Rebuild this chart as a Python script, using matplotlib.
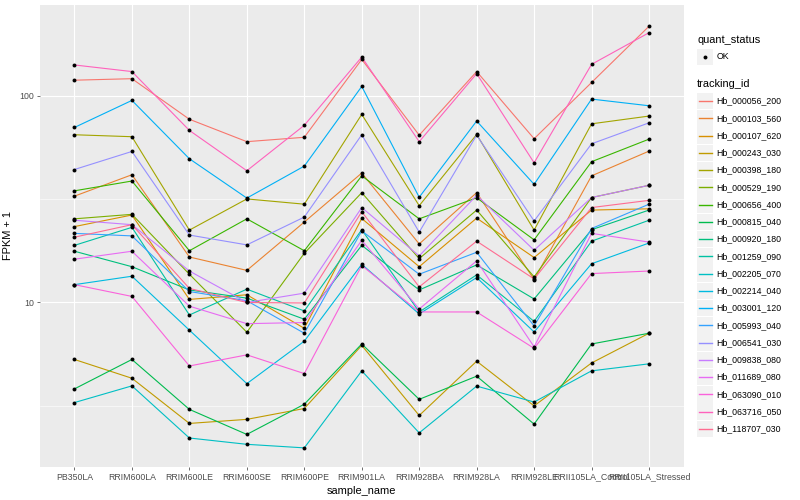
import numpy as np
import matplotlib
matplotlib.use('Agg')
import matplotlib.pyplot as plt
from matplotlib.patches import Rectangle
from matplotlib.ticker import FixedLocator, NullFormatter

plt.rcParams['font.family'] = ['Liberation Sans', 'DejaVu Sans']

#### dados

samples = ['PB350LA', 'RRIM600LA', 'RRIM600LE', 'RRIM600SE', 'RRIM600PE', 'RRIM901LA',
           'RRIM928BA', 'RRIM928LA', 'RRIM928LE', 'RRII105LA_Control', 'RRII105LA_Stressed']

tracking_ids = ['Hb_000056_200', 'Hb_000103_560', 'Hb_000107_620', 'Hb_000243_030',
                'Hb_000398_180', 'Hb_000529_190', 'Hb_000656_400', 'Hb_000815_040',
                'Hb_000920_180', 'Hb_001259_090', 'Hb_002205_070', 'Hb_002214_040',
                'Hb_003001_120', 'Hb_005993_040', 'Hb_006541_030', 'Hb_009838_080',
                'Hb_011689_080', 'Hb_063090_010', 'Hb_063716_050', 'Hb_118707_030']

# paleta hue do ggplot (20 cores)
cores = ['#F8766D', '#EA8331', '#D89000', '#C09B00', '#A3A500', '#7CAE00', '#39B600',
         '#00BB4E', '#00BF7D', '#00C1A3', '#00BFC4', '#00BAE0', '#00B0F6', '#35A2FF',
         '#9590FF', '#C77CFF', '#E76BF3', '#FA62DB', '#FF62BC', '#FF6C91']

# FPKM + 1 por amostra
hb_000056_200 = [119, 121, 77, 60, 63, 150, 64.5, 131, 62, 116, 217]
hb_000103_560 = [32.7, 41.5, 16.6, 14.3, 24.5, 42.3, 19.2, 34, 12.9, 41, 54]
hb_000107_620 = [23.3, 26.5, 10.35, 10.9, 7.5, 25.5, 14.9, 25.6, 16.5, 28, 28.4]
hb_000243_030 = [5.3, 4.3, 2.6, 2.72, 3.07, 6.2, 2.84, 5.2, 3.16, 5.1, 7.1]
hb_000398_180 = [64.8, 63.4, 22.4, 31.7, 29.9, 81.3, 29.4, 65, 22.4, 73.2, 79.8]
hb_000529_190 = [25.4, 26.7, 13.7, 7.18, 17.3, 34, 16.3, 28, 13.3, 32.2, 36.9]
hb_000656_400 = [34.7, 38.7, 17.8, 25.4, 17.8, 41, 25.4, 32.1, 20.1, 48, 61.7]
hb_000815_040 = [3.82, 5.3, 3.04, 2.3, 3.22, 6.3, 3.4, 4.4, 2.58, 6.3, 7.1]
hb_000920_180 = [17.7, 14.9, 11.5, 10.5, 8.3, 18.9, 11.5, 15.2, 10.4, 22.5, 28]
hb_001259_090 = [18.9, 23.1, 8.7, 11.6, 9.1, 22.5, 9.0, 13.6, 8.1, 19.8, 25]
hb_002205_070 = [3.28, 3.95, 2.21, 2.06, 1.98, 4.67, 2.34, 3.94, 3.3, 4.67, 5.05]
hb_002214_040 = [12.2, 13.4, 7.35, 4.05, 6.5, 15.3, 8.8, 13.2, 7.2, 15.4, 19.4]
hb_003001_120 = [70.3, 95, 49.6, 32, 45.7, 111, 32.3, 75.5, 37.3, 96.4, 89.5]
hb_005993_040 = [21.6, 21, 11.3, 10.2, 7.1, 22.2, 13.7, 17.5, 7.7, 22.8, 29.9]
hb_006541_030 = [44, 53.8, 21.2, 19, 25.9, 64.8, 21.9, 64.5, 24.8, 58.6, 74]
hb_009838_080 = [25.0, 23.8, 14.2, 10.0, 11.1, 28.8, 16.8, 33.0, 17.9, 32.2, 36.9]
hb_011689_080 = [16.2, 17.7, 9.6, 7.9, 8.0, 20, 9.3, 15.9, 6.1, 21.6, 19.6]
hb_063090_010 = [12.2, 10.7, 4.93, 5.58, 4.53, 15.1, 9.0, 9.0, 6.0, 13.8, 14.2]
hb_063716_050 = [141, 131, 68, 43.4, 72, 154, 60, 128, 47.4, 142, 202]
hb_118707_030 = [20.7, 23.8, 11.7, 10.0, 9.95, 27.5, 11.9, 19.8, 13.0, 28.8, 31.2]

series = [hb_000056_200, hb_000103_560, hb_000107_620, hb_000243_030, hb_000398_180,
          hb_000529_190, hb_000656_400, hb_000815_040, hb_000920_180, hb_001259_090,
          hb_002205_070, hb_002214_040, hb_003001_120, hb_005993_040, hb_006541_030,
          hb_009838_080, hb_011689_080, hb_063090_010, hb_063716_050, hb_118707_030]

#### grafico

W, H = 800, 500
fig = plt.figure(figsize=(8, 5), dpi=100)
ax = fig.add_axes([40 / W, 1 - 467 / H, (683.5 - 40) / W, (467 - 5) / H])
ax.set_facecolor('#EBEBEB')

x = np.arange(len(samples))
for vals, cor in zip(series, cores):
    ax.plot(x, vals, color=cor, lw=0.8, zorder=2)
for vals in series:
    ax.scatter(x, vals, s=8, color='black', zorder=3, linewidths=0)

ax.set_yscale('log')
ax.set_ylim(1.6, 275)
ax.set_xlim(-0.6, len(samples) - 0.4)
ax.yaxis.set_major_locator(FixedLocator([10, 100]))
ax.yaxis.set_minor_locator(FixedLocator([10 ** 0.5, 10 ** 1.5]))
ax.yaxis.set_minor_formatter(NullFormatter())
ax.set_yticklabels(['10', '100'])
ax.set_xticks(x)
ax.set_xticklabels(samples)

ax.grid(which='major', color='white', lw=0.8)
ax.grid(which='minor', axis='y', color='white', lw=0.4)
ax.set_axisbelow(True)
for s in ax.spines.values():
    s.set_visible(False)
ax.tick_params(which='major', length=2, width=0.5, color='#333333',
               labelsize=6.3, labelcolor='#4D4D4D', pad=2)
ax.tick_params(which='minor', length=0)

ax.set_xlabel('sample_name', fontsize=7.9, labelpad=3)
ax.set_ylabel('FPKM + 1', fontsize=7.9, labelpad=5)

# legenda manual no estilo ggplot
lg = fig.add_axes([690 / W, 0, 110 / W, 1])
lg.set_xlim(690, 800)
lg.set_ylim(500, 0)
lg.axis('off')

lg.text(697, 40, 'quant_status', fontsize=7.9, va='center', ha='left')
lg.add_patch(Rectangle((697, 48.5), 16, 16.5, color='#F2F2F2', lw=0))
lg.scatter([705], [56.7], s=8, color='black', linewidths=0)
lg.text(716.5, 56.7, 'OK', fontsize=6.3, va='center', ha='left')

lg.text(697, 84.3, 'tracking_id', fontsize=7.9, va='center', ha='left')
for i, (tid, cor) in enumerate(zip(tracking_ids, cores)):
    yc = 101 + i * 17.26
    lg.add_patch(Rectangle((697, yc - 8.2), 16, 16.5, color='#F2F2F2', lw=0))
    lg.plot([698.5, 711.5], [yc, yc], color=cor, lw=1.0)
    lg.text(716.5, yc, tid, fontsize=6.3, va='center', ha='left')

fig.savefig('out.png', dpi=100)
